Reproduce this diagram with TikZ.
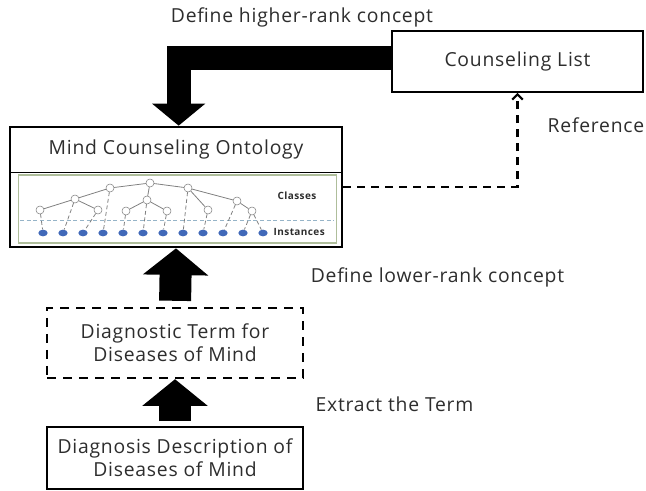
\documentclass[tikz,border=0pt]{standalone}
\usepackage{fontspec}
\setmainfont{Open Sans}[LetterSpace=4]
\usetikzlibrary{arrows.meta,shapes.geometric}

\definecolor{framegreen}{RGB}{175,190,155}
\definecolor{instblue}{RGB}{65,105,185}
\definecolor{sepblue}{RGB}{150,180,200}
\definecolor{txtgray}{RGB}{45,45,45}

\begin{document}
\begin{tikzpicture}[x=0.75pt,y=-0.75pt,
  box/.style={draw,line width=1.2pt,align=center,text=txtgray,
    font=\fontsize{14.5}{17}\selectfont},
  dbox/.style={box,line width=1.8pt,dash pattern=on 7pt off 5pt},
  note/.style={text=txtgray,font=\fontsize{14.5}{17}\selectfont},
  bentarrow/.style={line width=18pt,line join=miter,
    -{Triangle[width=39pt,length=16.5pt]}},
  uparrow/.style={line width=24pt,-{Triangle[width=48pt,length=20pt]}},
  refarrow/.style={line width=1.6pt,dash pattern=on 6pt off 4.5pt,
    -{Straight Barb[length=4pt,width=8pt]}},
  cls/.style={circle,draw=gray,fill=white,inner sep=0pt,minimum size=6pt},
  inst/.style={ellipse,fill=instblue,inner sep=0pt,
    minimum width=7pt,minimum height=5pt},
  edge/.style={gray,line width=0.6pt},
  link/.style={gray,line width=0.6pt,dash pattern=on 3pt off 2pt},
  tag/.style={font=\bfseries\fontsize{7.5}{9}\selectfont,text=txtgray,anchor=west}]
  \useasboundingbox (0,0) rectangle (646,491);

  \node[box,minimum width=188pt,minimum height=45.75pt] (list) at (517.5,61.5) {Counseling List};
  \node[draw,line width=2pt,minimum width=249pt,minimum height=90pt] (onto) at (176,187) {};
  \node[box,anchor=north,minimum width=249pt,minimum height=34.5pt] (ontotitle) at (onto.north) {Mind Counseling Ontology};
  \node[draw=framegreen,line width=0.8pt,minimum width=239pt,minimum height=51pt] (ontopic) at (177.5,209) {};
  \node[dbox,minimum width=192pt,minimum height=52.5pt] (term) at (175,343) {Diagnostic Term for\\Diseases of Mind};
  \node[box,minimum width=192pt,minimum height=46.5pt] (desc) at (175,458) {Diagnosis Description of\\Diseases of Mind};

  \draw[sepblue,line width=0.6pt,dash pattern=on 3pt off 2pt] (20,220) -- (334,220);
  \node[cls] (c1) at (150,183) {};
  \node[cls] (c2) at (110,188) {};
  \node[cls] (c3) at (188,188) {};
  \node[cls] (c4) at (75,199) {};
  \node[cls] (c5) at (147,200) {};
  \node[cls] (c6) at (237,201) {};
  \node[cls] (c7) at (40,210) {};
  \node[cls] (c8) at (98,210) {};
  \node[cls] (c9) at (126,211) {};
  \node[cls] (c10) at (167,211) {};
  \node[cls] (c11) at (208,210) {};
  \node[cls] (c12) at (252,211) {};
  \foreach \k in {1,...,12}
    \node[inst] (i\k) at (23+20*\k,233) {};
  \foreach \a/\b in {1/2,1/3,1/5,2/4,4/7,4/8,5/9,5/10,3/11,3/6,6/12}
    \draw[edge] (c\a) -- (c\b);
  \foreach \a/\b in {7/1,4/2,8/3,2/4,9/5,5/6,10/7,3/8,11/9,6/10,12/11,12/12}
    \draw[link] (c\a) -- (i\b);
  \node[tag] (classes) at (273,196) {Classes};
  \node[tag] (instances) at (269,232) {Instances};

  \node[note] (higher) at (302,17) {Define higher-rank concept};
  \node[note] (reference) at (596,125) {Reference};
  \node[note] (lower) at (437.5,277) {Define lower-rank concept};
  \node[note,anchor=west] (extract) at (311,404) {Extract the Term};

  \draw[bentarrow] ([yshift=2.25pt]list.west) -| ([xshift=2pt]ontotitle.north);
  \draw[refarrow] (onto.east) -| (list.south);
  \draw[uparrow,shorten <=4.5pt] (term.north) -- (onto.south);
  \draw[uparrow,shorten <=3.75pt] (desc.north) -- (term.south);
\end{tikzpicture}
\end{document}
